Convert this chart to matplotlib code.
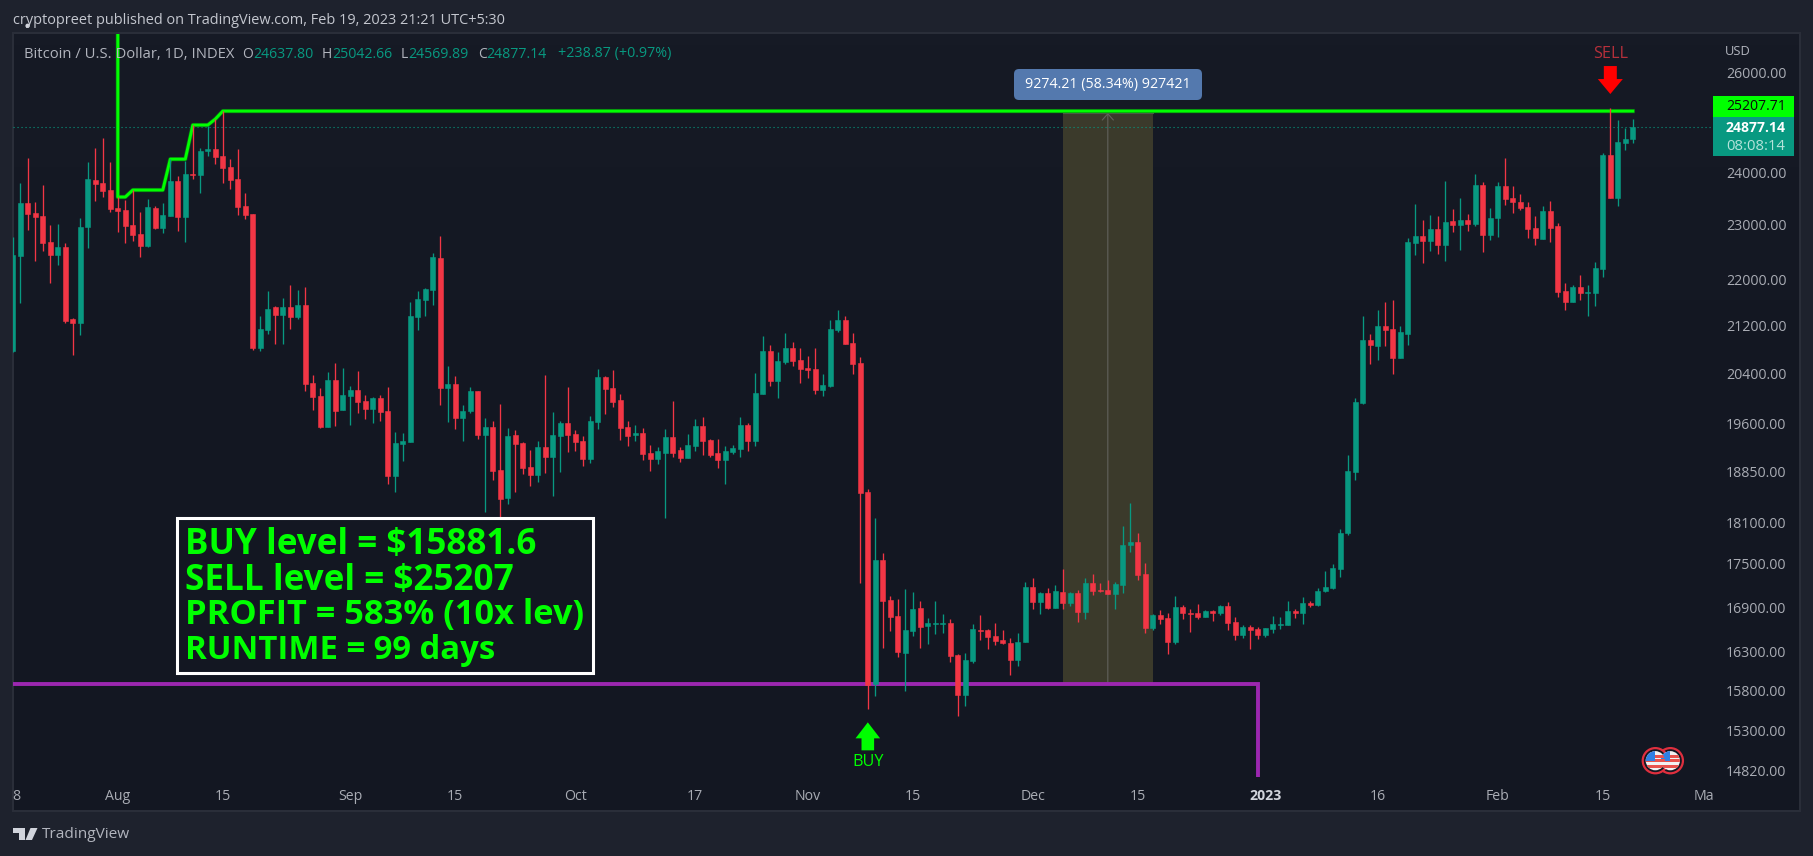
import numpy as np
import matplotlib
matplotlib.use("Agg")
import matplotlib.pyplot as plt
from matplotlib.patches import Rectangle, FancyBboxPatch, Polygon, Circle
from matplotlib.transforms import IdentityTransform
from matplotlib.colors import LinearSegmentedColormap
import matplotlib.patheffects as pe

FONT = "Open Sans"
plt.rcParams["font.family"] = [FONT, "DejaVu Sans"]

opens = [20780,22427,23408,23220,23163,22682,22445,22590,21317,21249,
22958,23846,23788,23654,23314,23276,22995,22830,22609,23314,
22940,23163,23827,23145,23963,23943,24410,24450,24310,24098,
23865,23351,23200,20824,21129,21525,21386,21525,21352,21560,
20245,20033,19538,20294,19808,20033,20131,19952,19824,20000,
19792,18780,19271,19303,21352,21646,21822,22391,20163,20229,
19681,19792,20115,19412,19538,18871,18450,19412,19287,18917,
18795,19225,19070,19397,19601,19428,19318,19040,19617,20343,
20163,19968,19538,19412,19444,19132,19040,19132,19381,19178,
19055,19240,19554,19334,19132,19024,19147,19194,19570,19318,
20066,20773,20278,20590,20824,20624,20491,20474,20131,20196,
21129,21300,20909,20574,18539,15881,17550,16993,16775,16282,
16574,16884,16640,16667,16667,16681,16255,15740,16177,16587,
16587,16507,16454,16414,16190,16427,17172,16966,17089,16884,
17103,16952,17089,16830,17227,17130,17130,17075,17200,17763,
17806,17352,16614,16789,16748,16427,16898,16816,16816,16761,
16843,16816,16911,16694,16520,16627,16600,16520,16600,16654,
16654,16843,16816,16952,16925,17116,17158,17422,17936,18840,
19920,20960,20858,21197,21146,20657,21061,22664,22792,22700,
22921,22627,23070,22995,23088,23014,23750,22811,23126,23730,
23502,23427,23332,22940,22737,23257,22977,21804,21611,21875,
21769,21769,22194,24332,23502,24569,24637.80]

highs = [22780,23782,24270,23427,23750,22995,23014,22664,21335,23126,
24193,24470,24668,24193,23521,23464,23654,23238,23483,23351,
23408,24250,23923,24213,24926,24470,24907,25046,25207,24250,
24450,23597,23200,21369,21804,21542,21681,21910,21822,21875,
20376,20163,20425,20574,20491,20196,20441,20049,20017,20049,
20180,19460,19444,21611,21804,21857,22482,22800,20524,20360,
19888,20180,20115,19681,19633,19904,19522,19491,19303,19178,
19318,20376,19776,19633,20180,19491,19397,19713,20474,20360,
20458,20066,19633,19570,19522,19256,19225,19507,19952,19225,
19428,19665,19697,19350,19350,19240,19256,19697,19601,20409,
21027,20875,20757,21078,20926,20824,20690,20824,20392,21300,
21473,21369,21078,20674,18584,18154,17650,17048,17006,17144,
17103,16979,16748,16979,16802,16735,16268,16282,16667,16789,
16600,16681,16587,16480,16547,17241,17297,17103,17158,17200,
17422,17103,17130,17297,17352,17227,17269,17241,18037,18375,
17936,17508,16802,16857,16816,17048,16925,16870,16938,16857,
16857,16925,16966,16761,16654,16654,16627,16614,16775,16761,
16979,16870,17034,16979,17158,17394,17494,17994,19101,19999,
21369,21061,21473,21611,21646,21197,22756,23389,23088,23182,
23163,23827,23295,23502,23200,23963,23807,23314,23807,24270,
23730,23577,23427,23163,23351,23445,23032,21945,21910,22087,
21910,22319,24371,25270,25026,24866,25042.66]

lows = [20762,21600,22903,22337,22518,21945,22265,21249,20707,21044,
22572,23445,23521,23238,22866,22664,22700,22409,22590,22921,
22848,23163,22885,22682,23865,23597,24310,24157,23788,23672,
23182,23107,20790,20773,21061,20892,20892,21146,21317,20115,
19808,19522,19538,19554,19808,19570,19760,19665,19601,19633,
18660,18539,19009,19303,21129,21369,21560,19888,19617,19507,
19318,19760,19350,18243,18720,18169,18361,18539,18810,18630,
18690,18826,18480,18841,19147,19163,18932,18978,19507,19745,
19856,19334,19240,19318,19024,18856,18963,18154,19070,18993,
19055,19163,19101,19070,18902,18660,19117,19070,19163,19240,
20066,20196,20000,20557,20524,20245,20327,20066,20033,20180,
21095,20892,20392,17227,15563,15727,16348,16574,16229,15791,
16507,16348,16401,16534,16547,16164,15475,15600,16151,16454,
16334,16388,16401,15996,16112,16427,16870,16802,16870,16884,
16870,16911,16694,16735,17061,17103,17075,16870,17089,17664,
17269,16547,16587,16667,16268,16401,16735,16560,16735,16761,
16708,16789,16587,16454,16480,16334,16467,16494,16547,16600,
16654,16748,16667,16898,16911,17103,17144,17311,17907,18720,
19910,20557,20624,20858,20392,20657,20875,22445,22301,22518,
22463,22337,22866,22536,22885,22977,22500,22719,22774,23370,
23220,23276,22756,22627,22737,22682,21699,21473,21611,21646,
21369,21542,22051,23502,23351,24430,24569.89]

closes = [22445,23408,23200,23145,22664,22445,22590,21283,21249,22958,
23865,23769,23635,23295,23257,22977,22811,22609,23332,22940,
23182,23827,23145,23963,23943,24410,24450,24290,24078,23846,
23332,23182,20824,21146,21490,21386,21525,21352,21560,20229,
20017,19538,20294,19792,20049,20131,19936,19824,20000,19776,
18780,19287,19318,21369,21663,21839,22409,20163,20229,19681,
19792,20115,19412,19538,18856,18435,19397,19271,18900,18795,
19225,19070,19412,19601,19412,19303,19040,19633,20343,20147,
19936,19522,19397,19444,19117,19040,19163,19381,19132,19055,
19256,19554,19318,19101,19024,19163,19209,19570,19318,20082,
20773,20278,20607,20824,20607,20474,20458,20131,20212,21146,
21300,20892,20557,18524,15868,17550,16979,16761,16295,16587,
16870,16627,16681,16681,16681,16242,15740,16190,16600,16574,
16494,16441,16414,16190,16427,17172,16966,17089,16884,17116,
16952,17089,16830,17227,17116,17116,17075,17213,17763,17806,
17339,16614,16789,16735,16427,16898,16816,16802,16761,16843,
16816,16911,16681,16520,16627,16587,16520,16614,16667,16667,
16843,16816,16952,16925,17116,17172,17436,17936,18856,19936,
20960,20875,21197,21129,20657,21095,22682,22792,22700,22921,
22627,23051,22995,23088,23014,23750,22811,23126,23730,23483,
23427,23314,22921,22756,23257,22940,21787,21611,21875,21769,
21787,22212,24332,23502,24588,24647,24877.14]

tick_days = [0.5,14,28,45,59,75,91,106,120,136,150,167,182,198,212,225.5]
tick_names = ["8","Aug","15","Sep","15","Oct","17","Nov","15","Dec","15","2023","16","Feb","15","Ma"]
price_ticks = [26000,24000,23000,22000,21200,20400,19600,18850,18100,17500,16900,16300,15800,15300,14820]

sell_line_days = [14,14,15,16,20,21,23,24,26,27,28,216]
sell_line_vals = [27500,23521,23521,23654,23654,24250,24250,24926,24926,25046,25207.71,25207.71]
buy_line_days = [0,166,166]
buy_line_vals = [15881.6,15881.6,14500]
range_days = [140,152]
range_mid_day = 146
range_prices = [15881.6,25170]
last_price = 24877.14
buy_day, sell_day = 114, 213
event_days = [221,219]

RED, GREEN, LIME = "#f23645", "#089981", "#00ff00"
LABEL = "#b2b5be"
W, H = 1813, 856
fig = plt.figure(figsize=(W/100, H/100), dpi=100, facecolor="#1e222d")
rend = fig.canvas.get_renderer()

def txt(x, y, s, width=None, size=10, color=LABEL, ha="left", weight="normal", **kw):
    t = fig.text(x/W, 1-y/H, s, color=color, ha=ha, va="center", fontsize=size, fontweight=weight, **kw)
    if width:
        t.set_fontsize(size*width/t.get_window_extent(rend).width)
    return t

def px_poly(pts, **kw):
    p = Polygon([(a, H-b) for a, b in pts], closed=True, transform=IdentityTransform(), lw=0, **kw)
    fig.add_artist(p)
    return p

def frect(x0, y0, x1, y1, **kw):
    r = Rectangle((x0/W, 1-y1/H), (x1-x0)/W, (y1-y0)/H, transform=fig.transFigure, **kw)
    fig.add_artist(r)
    return r

# panel with subtle gradient
bg = fig.add_axes([13/W, (H-811)/H, 1787/W, 778/H], zorder=-2)
cmap = LinearSegmentedColormap.from_list("g", ["#161a25", "#131722", "#131722"])
bg.imshow(np.linspace(0, 1, 64)[:, None], aspect="auto", cmap=cmap)
bg.set_xticks([]); bg.set_yticks([])
for s in bg.spines.values():
    s.set_color("#2a2e39"); s.set_linewidth(1.5)

ax = fig.add_axes([13/W, (H-777)/H, 1700/W, 743/H], facecolor="none")
ax.set_yscale("log")
ax.set_xlim(0.027, 226.69)
ax.set_ylim(14737, 26824)
for s in ax.spines.values():
    s.set_visible(False)

# price range drawing
ax.fill_between(range_days, range_prices[0], range_prices[1], color="#3b3a2b", lw=0, zorder=1)
ax.plot(range_days, [range_prices[1]]*2, color="#5d5d55", lw=0.8, zorder=1.1)
ax.annotate("", xy=(range_mid_day, range_prices[1]), xytext=(range_mid_day, range_prices[0]),
            arrowprops=dict(arrowstyle="->,head_length=0.45,head_width=0.4", color="#62625c", lw=0.8,
                            shrinkA=0, shrinkB=0), zorder=1.2)

# levels
ax.axhline(last_price, color=GREEN, ls=(0, (1, 2.6)), lw=0.8, zorder=1.5)
ax.plot(sell_line_days, sell_line_vals, color=LIME, lw=2.1, zorder=2, solid_joinstyle="round",
        path_effects=[pe.Stroke(linewidth=3.1, foreground="#0c5f16"), pe.Normal()])
ax.plot(buy_line_days, buy_line_vals, color="#9c27b0", lw=2.8, zorder=2, solid_joinstyle="miter")

# candles
days = np.arange(len(opens))
o, h, l, c = map(np.array, (opens, highs, lows, closes))
cols = [GREEN if b >= a else RED for a, b in zip(o, c)]
ax.vlines(days, l, h, colors=cols, lw=0.95, zorder=3)
ax.bar(days, np.abs(c-o), bottom=np.minimum(o, c), width=0.66, color=cols, edgecolor=cols, lw=0.4, zorder=3.1)

# axis labels
probe = fig.text(0, 0, "26000.00", fontsize=10)
tick_fs = 10*60.6/probe.get_window_extent(rend).width
probe.remove()
ax.set_yticks(price_ticks)
ax.set_yticklabels([f"{p:.2f}" for p in price_ticks])
ax.minorticks_off()
ax.yaxis.tick_right()
ax.tick_params(axis="y", length=0, pad=9.4, labelsize=tick_fs, labelcolor="#a9acb4")
ax.set_xticks(tick_days)
ax.set_xticklabels(tick_names)
ax.tick_params(axis="x", length=0, pad=9, labelsize=tick_fs, labelcolor="#a9acb4")
for lab in ax.get_xticklabels():
    if lab.get_text() == "2023":
        lab.set_fontweight("bold"); lab.set_color("#d1d4dc")

# header
txt(13, 20, "cryptopreet published on TradingView.com, Feb 19, 2023 21:21 UTC+5:30", width=493, color="#c4c7cf")
legend_font = tick_fs*0.98
txt(23.5, 54, "Bitcoin / U.S. Dollar, 1D, INDEX", width=210, color=LABEL)
for x, lead, val in [(242, "O", "24637.80"), (322, "H", "25042.66"), (401, "L", "24569.89"), (478, "C", "24877.14")]:
    t0 = txt(x, 54, lead, size=legend_font)
    txt(t0.get_window_extent(rend).x1, 54, val, width=60, color=GREEN)
txt(557.5, 54, "+238.87 (+0.97%)", width=113, color=GREEN)

# price labels
frect(1713, 96, 1794, 117, color=LIME, lw=0)
frect(1713, 117, 1794, 156, color=GREEN, lw=0)
txt(1726, 107, "25207.71", width=60, color="#0b0b0b")
txt(1726, 127.5, "24877.14", width=60, color="#ffffff", weight="bold")
txt(1726, 146, "08:08:14", width=59, color="#b5e3da")
txt(1725, 51.5, "USD", width=26, color=LABEL)

# range tag
tag = FancyBboxPatch((1018, H-96), 180, 23, boxstyle="round,pad=4,rounding_size=5", fc="#5479ae", ec="none",
                     transform=IdentityTransform())
fig.add_artist(tag)
txt(1108, 84.5, "9274.21 (58.34%) 927421", width=165, color="#ffffff", ha="center")

# info box
frect(176.5, 517.5, 592.5, 672.5, fc="#131722", ec="#ffffff", lw=2.2)
info_lines = ["BUY level = $15881.6", "SELL level = $25207", "PROFIT = 583% (10x lev)", "RUNTIME = 99 days"]
info_widths = [352, 330, 399, 310]
for yy, s, wd in zip([545, 580.5, 615, 650.5], info_lines, info_widths):
    txt(185, yy, s, width=wd, color=LIME, weight="bold")

# buy / sell arrows anchored on candles
bx, by = ax.transData.transform((buy_day, lows[buy_day]))
by = H-by
tip = by+13
px_poly([(bx, tip), (bx+12.3, tip+16), (bx+6.3, tip+16), (bx+6.3, tip+28), (bx-6.3, tip+28), (bx-6.3, tip+16), (bx-12.3, tip+16)], color=LIME)
txt(bx, 762, "BUY", width=31, color=LIME, ha="center")

sx, sy = ax.transData.transform((sell_day, highs[sell_day]))
sy = H-sy
tip = sy-14
px_poly([(sx, tip), (sx+12.5, tip-15), (sx+6.5, tip-15), (sx+6.5, tip-28), (sx-6.5, tip-28), (sx-6.5, tip-15), (sx-12.5, tip-15)], color="#ff0000")
txt(sx, 54, "SELL", width=35, color="#b7303b", ha="center")

# event flags
for d in event_days:
    ex = ax.transData.transform((d, 20000))[0]
    ey = H-760.7
    ring = Circle((ex, ey), 12.6, transform=IdentityTransform(), fc="#131722", ec="#df2f3e", lw=1.6, zorder=4)
    fig.add_artist(ring)
    face = Circle((ex, ey), 9.6, transform=IdentityTransform(), fc="#f2f2f2", ec="none", zorder=4.1)
    fig.add_artist(face)
    for y0, hh, x0, ww, col in [(2.5, 3, 0, 11, "#e8524c"), (-1.5, 3, -11, 22, "#e8524c"), (-7, 3, -11, 22, "#e8524c"),
                                (0, 10, -10, 10, "#2f80e4")]:
        r = Rectangle((ex+x0, ey+y0), ww, hh, transform=IdentityTransform(), fc=col, ec="none", zorder=4.2)
        fig.add_artist(r)
        r.set_clip_path(face)

# logo
px_poly([(13, 828), (24.5, 828), (24.5, 840), (18.5, 840), (18.5, 832.5), (13, 832.5)], color="#d1d4dc")
fig.add_artist(Circle((27.6, 830.2), 2.2, transform=IdentityTransform(), fc="#d1d4dc", ec="none"))
px_poly([(30.5, 828), (37.5, 828), (32, 840), (25.5, 840)], color="#d1d4dc")
txt(41.5, 835, "TradingView", width=88, color="#b2b5be")

fig.savefig("out.png", dpi=100, facecolor=fig.get_facecolor())
